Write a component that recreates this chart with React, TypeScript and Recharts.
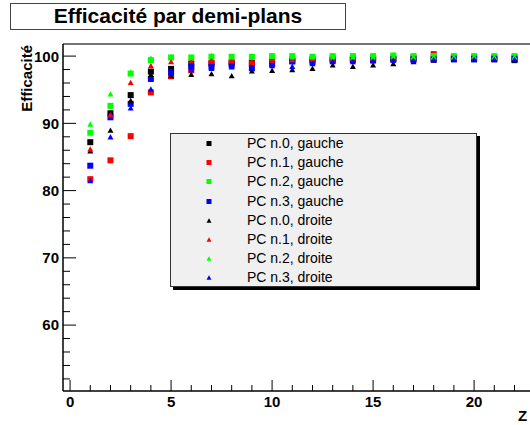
import { ScatterChart, Scatter, XAxis, YAxis, ReferenceLine, Legend } from 'recharts';

// plane numbers along Z
const planes = [1, 2, 3, 4, 5, 6, 7, 8, 9, 10, 11, 12, 13, 14, 15, 16, 17, 18, 19, 20, 21, 22];

// efficiency (%) per half-plane
const pc0Gauche = [87.2, 91.5, 94.2, 97.7, 98.1, 98.9, 98.9, 99.0, 99.0, 99.2, 99.3, 99.4, 99.5, 99.5, 99.6, 99.6, 99.6, 99.6, 99.7, 99.7, 99.6, 99.4];
const pc1Gauche = [81.7, 84.5, 88.1, 94.6, 97.0, 97.9, 99.0, 99.1, 98.9, 99.3, 99.5, 99.6, 99.7, 99.7, 99.7, 99.7, 99.8, 100.3, 99.8, 99.8, 99.8, 99.8];
const pc2Gauche = [88.6, 92.6, 97.4, 99.4, 99.8, 99.8, 99.9, 99.9, 99.9, 100.0, 100.0, 99.9, 100.0, 100.0, 100.0, 100.1, 100.0, 100.0, 100.0, 100.0, 100.0, 100.0];
const pc3Gauche = [83.7, 90.9, 92.9, 96.6, 97.6, 98.4, 98.4, 98.6, 98.2, 98.8, 99.2, 99.1, 99.3, 99.4, 99.4, 99.5, 99.5, 99.5, 99.6, 99.6, 99.6, 99.6];
const pc0Droite = [85.9, 89.0, 93.4, 97.3, 97.1, 97.3, 97.4, 97.1, 97.8, 97.9, 98.0, 98.2, 98.7, 98.5, 98.7, 98.9, 99.2, 99.4, 99.5, 99.5, 99.5, 99.5];
const pc1Droite = [86.2, 91.3, 96.1, 98.6, 99.2, 99.3, 99.4, 99.3, 99.2, 99.4, 99.5, 99.6, 99.6, 99.7, 99.7, 99.7, 99.7, 99.8, 99.8, 99.8, 99.8, 99.8];
const pc2Droite = [89.9, 94.4, 97.6, 99.7, 99.9, 99.8, 100.1, 99.9, 99.9, 100.0, 99.9, 99.9, 99.9, 99.9, 99.9, 100.0, 99.9, 99.9, 99.9, 100.0, 99.9, 99.9];
const pc3Droite = [81.5, 88.0, 92.3, 95.1, 97.5, 98.0, 98.2, 98.4, 98.3, 98.6, 98.5, 98.9, 99.2, 99.2, 99.3, 99.4, 99.4, 99.5, 99.5, 99.5, 99.5, 99.5];

const xTicks = [0, 1, 2, 3, 4, 5, 6, 7, 8, 9, 10, 11, 12, 13, 14, 15, 16, 17, 18, 19, 20, 21, 22, 23];
const yTicks = [52, 54, 56, 58, 60, 62, 64, 66, 68, 70, 72, 74, 76, 78, 80, 82, 84, 86, 88, 90, 92, 94, 96, 98, 100];

const SERIES = [
  { name: 'PC n.0, gauche', values: pc0Gauche, color: '#000000', marker: 'square' },
  { name: 'PC n.1, gauche', values: pc1Gauche, color: '#ff0000', marker: 'square' },
  { name: 'PC n.2, gauche', values: pc2Gauche, color: '#00ff00', marker: 'square' },
  { name: 'PC n.3, gauche', values: pc3Gauche, color: '#0000ff', marker: 'square' },
  { name: 'PC n.0, droite', values: pc0Droite, color: '#000000', marker: 'triangle' },
  { name: 'PC n.1, droite', values: pc1Droite, color: '#ff0000', marker: 'triangle' },
  { name: 'PC n.2, droite', values: pc2Droite, color: '#00ff00', marker: 'triangle' },
  { name: 'PC n.3, droite', values: pc3Droite, color: '#0000ff', marker: 'triangle' },
];

const FONT = '"Liberation Sans", Arial, Helvetica, sans-serif';

function markerPath(cx: number, cy: number, kind: string, size: number, color: string) {
  if (kind === 'square') {
    return <rect x={cx - size / 2} y={cy - size / 2} width={size} height={size} fill={color} />;
  }
  const h = size * 0.9;
  return (
    <polygon
      points={`${cx},${cy - h / 2} ${cx + size / 2},${cy + h / 2} ${cx - size / 2},${cy + h / 2}`}
      fill={color}
    />
  );
}

const YTick = (props: any) => {
  const { x, y, payload } = props;
  const major = payload.value % 10 === 0;
  return (
    <g>
      <line x1={x} x2={x + (major ? 13 : 7)} y1={y} y2={y} stroke="#000" />
      {major && (
        <text x={x - 4} y={y} dy="0.36em" textAnchor="end" fontFamily={FONT} fontWeight="bold" fontSize={15} fill="#000">
          {payload.value}
        </text>
      )}
    </g>
  );
};

const XTick = (props: any) => {
  const { x, y, payload } = props;
  const major = payload.value % 5 === 0;
  return (
    <g>
      <line x1={x} x2={x} y1={y} y2={y - (major ? 11 : 6)} stroke="#000" />
      {major && (
        <text x={x} y={y + 16} textAnchor="middle" fontFamily={FONT} fontWeight="bold" fontSize={15} fill="#000">
          {payload.value}
        </text>
      )}
    </g>
  );
};

const LegendBox = () => (
  <div
    style={{
      position: 'relative',
      width: 307,
      height: 154,
      boxSizing: 'border-box',
      background: '#f0f0f0',
      border: '1px solid #333',
      boxShadow: '3px 3px 0 #000',
      fontFamily: FONT,
      fontSize: 14,
    }}
  >
    {SERIES.map((s, i) => (
      <div key={s.name} style={{ position: 'absolute', left: 0, top: 1 + i * 19.2, height: 17, width: 300 }}>
        <svg width={10} height={17} style={{ position: 'absolute', left: 33, top: 0 }}>
          {markerPath(5, 8.5, s.marker, 5, s.color)}
        </svg>
        <span style={{ position: 'absolute', left: 76, top: 0, lineHeight: '17px', color: '#000', whiteSpace: 'nowrap' }}>
          {s.name}
        </span>
      </div>
    ))}
  </div>
);

export default function App() {
  return (
    <div style={{ position: 'fixed', left: 0, top: 0, width: 530, height: 425, overflow: 'hidden', background: '#fff' }}>
      <div
        style={{
          position: 'absolute',
          left: 10,
          top: 3,
          width: 336,
          height: 27,
          boxSizing: 'border-box',
          border: '1.5px solid #444',
          background: '#fff',
          textAlign: 'center',
          fontFamily: FONT,
          fontWeight: 'bold',
          fontSize: 21,
          lineHeight: '24px',
          zIndex: 2,
        }}
      >
        Efficacité par demi-plans
      </div>
      <ScatterChart width={560} height={425} margin={{ top: 44, right: 15, bottom: 0, left: 0 }}>
        <XAxis
          type="number"
          dataKey="x"
          domain={[-0.35, 23.51]}
          ticks={xTicks}
          interval={0}
          tickSize={0}
          tickMargin={0}
          tickLine={false}
          height={34}
          axisLine={{ stroke: '#000', strokeWidth: 1.5 }}
          tick={<XTick />}
          label={{
            content: () => (
              <text x={518} y={421} fontFamily={FONT} fontWeight="bold" fontSize={15} fill="#000">
                Z
              </text>
            ),
          }}
        />
        <YAxis
          type="number"
          dataKey="y"
          domain={[50.2, 101.8]}
          ticks={yTicks}
          interval={0}
          tickSize={0}
          tickMargin={0}
          tickLine={false}
          width={63}
          axisLine={{ stroke: '#000', strokeWidth: 1.5 }}
          tick={<YTick />}
          label={{
            content: (p: any) => (
              <text
                x={32}
                y={p.viewBox ? p.viewBox.y + 1 : 45}
                transform={`rotate(-90, 32, ${p.viewBox ? p.viewBox.y + 1 : 45})`}
                textAnchor="end"
                fontFamily={FONT}
                fontWeight="bold"
                fontSize={15}
                fill="#000"
              >
                Efficacité
              </text>
            ),
          }}
        />
        <ReferenceLine y={101.8} stroke="#444" strokeWidth={1.5} />
        {SERIES.map((s) => (
          <Scatter
            key={s.name}
            name={s.name}
            data={planes.map((p, i) => ({ x: p, y: s.values[i] }))}
            fill={s.color}
            isAnimationActive={false}
            shape={(props: any) => markerPath(props.cx, props.cy, s.marker, 6, s.color)}
          />
        ))}
        <Legend
          layout="vertical"
          align="center"
          verticalAlign="middle"
          wrapperStyle={{ left: 170, top: 133, width: 307, height: 154 }}
          content={() => <LegendBox />}
        />
      </ScatterChart>
    </div>
  );
}
